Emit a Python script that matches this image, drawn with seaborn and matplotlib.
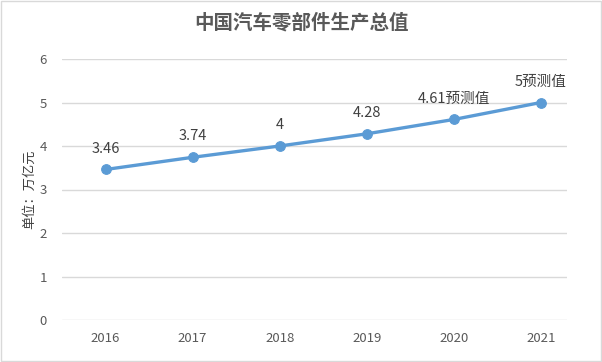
import pandas as pd
import matplotlib.pyplot as plt
import seaborn as sns

# -----------------------------
# Data
# -----------------------------

years = ["2016", "2017", "2018", "2019", "2020", "2021"]
values = [3.46, 3.74, 4.0, 4.28, 4.61, 5.0]
labels = ["3.46", "3.74", "4", "4.28", "4.61预测值", "5预测值"]
y_ticks = [0, 1, 2, 3, 4, 5, 6]

df = pd.DataFrame({"year": years, "value": values})
df["pos"] = range(len(df))

sns.set_style("white")
plt.rcParams["font.family"] = ["Noto Sans CJK SC", "DejaVu Sans"]

line_color = "#5B9BD5"
text_color = "#595959"

# -----------------------------
# Plot
# -----------------------------

fig = plt.figure(figsize=(6.02, 3.62), dpi=100)
ax = fig.add_axes([62 / 602, 1 - 320 / 362, 505 / 602, 261 / 362])

sns.lineplot(
    data=df,
    x="pos",
    y="value",
    color=line_color,
    linewidth=2.4,
    marker="o",
    markersize=7,
    markeredgecolor=line_color,
    ax=ax
)

for x, y, t in zip(df["pos"], df["value"], labels):
    ax.annotate(
        t, (x, y), xytext=(0, 10), textcoords="offset points",
        ha="center", va="bottom", fontsize=10.5, color="#404040"
    )

ax.set_xlim(-0.5, 5.3)
ax.set_ylim(0, 6)
ax.set_xticks(df["pos"])
ax.set_xticklabels(years)
ax.set_yticks(y_ticks)
ax.tick_params(axis="both", length=0, labelsize=9.5, labelcolor=text_color)
ax.tick_params(axis="y", pad=11)
ax.tick_params(axis="x", pad=9)

ax.grid(axis="y", color="#D9D9D9", linewidth=1)
for s in ax.spines.values():
    s.set_visible(False)

ax.set_xlabel("")
ax.set_ylabel("单位：万亿元", fontsize=9.5, color="#404040", style="italic", labelpad=2)

fig.text(0.5, 1 - 23 / 362, "中国汽车零部件生产总值", ha="center", va="center",
         fontsize=14, fontweight="bold", color="#595959")

fig.patches.append(plt.Rectangle((0.001, 0.002), 0.997, 0.995, transform=fig.transFigure,
                                 fill=False, edgecolor="#D9D9D9", linewidth=1))

plt.savefig("out.png", dpi=100)
plt.close()

print("Saved out.png")
